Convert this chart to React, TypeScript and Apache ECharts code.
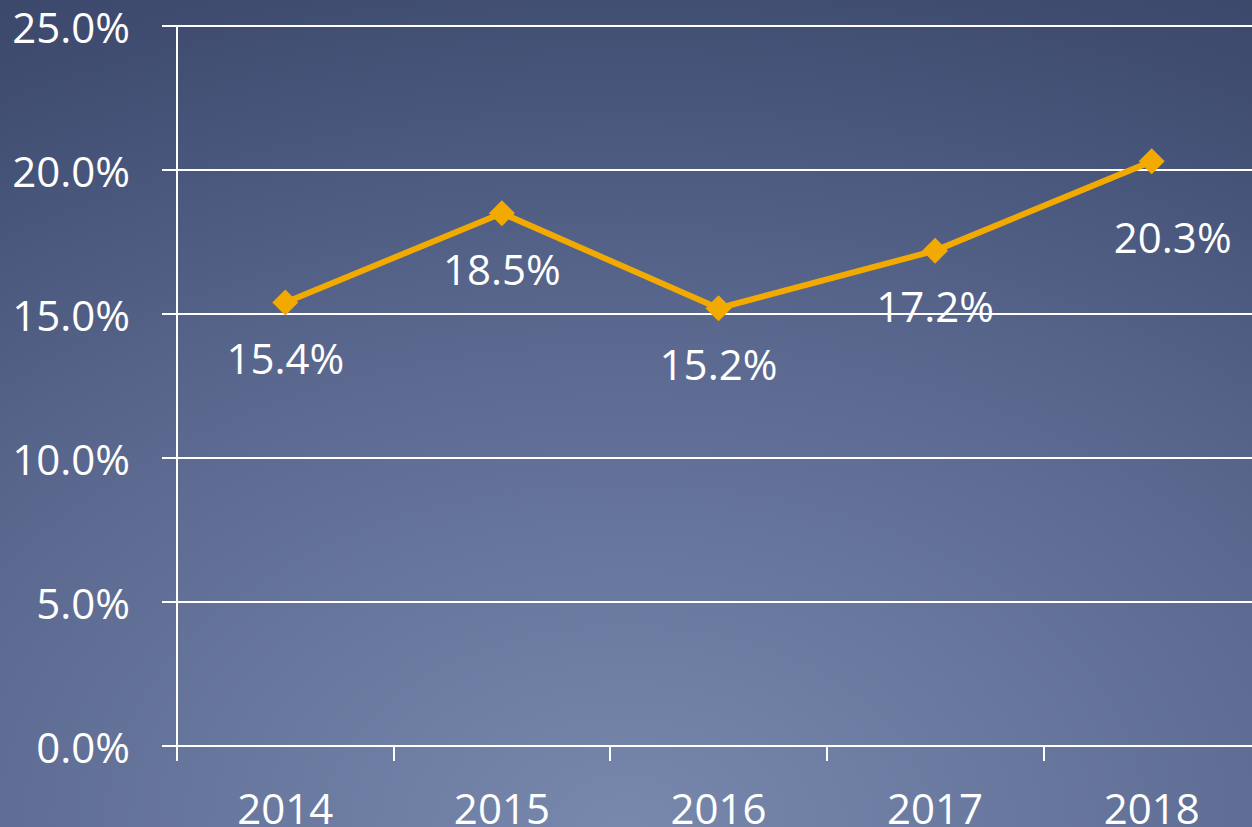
import React, { useEffect, useRef } from "react";
import * as echarts from "echarts";

const categories = ["2014", "2015", "2016", "2017", "2018"];
const values = [15.4, 18.5, 15.2, 17.2, 20.3];
const yTicks = [0, 5, 10, 15, 20, 25];

export default function App() {
  const ref = useRef<HTMLDivElement>(null);
  useEffect(() => {
    document.body.style.margin = "0";
    if (!ref.current) return;
    const chart = echarts.init(ref.current, null, { renderer: "svg" });
    const font = "'Open Sans', 'Noto Sans', sans-serif";
    chart.setOption({
      animation: false,
      backgroundColor: new echarts.graphic.RadialGradient(0.5, 1, 1.3, [
        { offset: 0, color: "#7888ad" },
        { offset: 0.45, color: "#5b6990" },
        { offset: 0.8, color: "#3f4c70" },
        { offset: 1, color: "#36415f" },
      ]),
      grid: {
        left: 177,
        top: 26,
        height: 720,
        width: 1083,
        containLabel: false,
        outerBoundsMode: "none",
      },
      xAxis: {
        type: "category",
        data: categories,
        boundaryGap: true,
        axisLine: { show: true, lineStyle: { color: "#ffffff", width: 2 } },
        axisTick: { show: true, length: 15, lineStyle: { color: "#ffffff", width: 2 } },
        axisLabel: { color: "#ffffff", fontSize: 42, fontFamily: font, margin: 40 },
        splitLine: { show: false },
      },
      yAxis: {
        type: "value",
        min: yTicks[0],
        max: yTicks[yTicks.length - 1],
        interval: 5,
        axisLine: { show: true, lineStyle: { color: "#ffffff", width: 2 } },
        axisTick: { show: true, length: 15, lineStyle: { color: "#ffffff", width: 2 } },
        axisLabel: {
          color: "#ffffff",
          fontSize: 42,
          fontFamily: font,
          margin: 47,
          formatter: (v: number) => v.toFixed(1) + "%",
        },
        splitLine: { show: true, lineStyle: { color: "#ffffff", width: 2 } },
      },
      series: [
        {
          type: "line",
          data: values.map((v, i) =>
            i === values.length - 1
              ? { value: v, label: { offset: [21, 20] } }
              : { value: v }
          ),
          lineStyle: { color: "#f2aa00", width: 6 },
          itemStyle: { color: "#f2aa00" },
          symbol: "diamond",
          symbolSize: 26,
          label: {
            show: true,
            position: "bottom",
            distance: 21,
            color: "#ffffff",
            fontSize: 42,
            fontFamily: font,
            formatter: (p: any) => p.value.toFixed(1) + "%",
          },
        },
      ],
    });
    return () => chart.dispose();
  }, []);
  return <div ref={ref} style={{ width: 1252, height: 827 }} />;
}
